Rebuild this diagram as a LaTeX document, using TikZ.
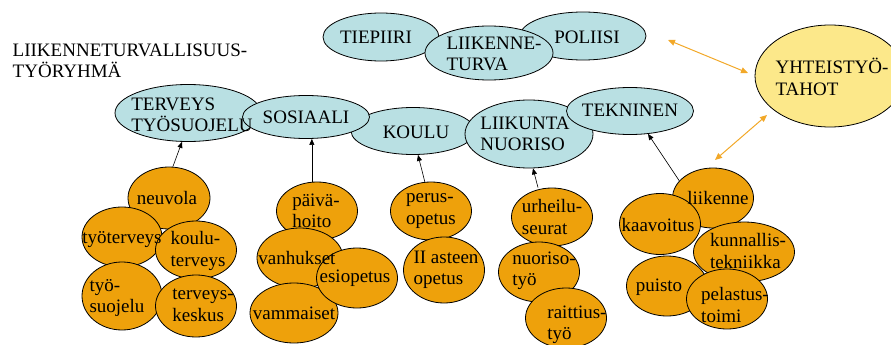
\documentclass[tikz,border=0pt]{standalone}
\usepackage{fontspec}
\setmainfont{Liberation Serif}
\usetikzlibrary{shapes.geometric,arrows.meta}
\definecolor{lblue}{HTML}{B9E0E3}
\definecolor{orng}{HTML}{EEA10B}
\definecolor{ylw}{HTML}{FCE88A}
\definecolor{arr}{HTML}{F2A828}
\tikzset{
  ell/.style={ellipse, draw=black, line width=0.8pt, inner sep=0pt},
  blue/.style={ell, fill=lblue},
  org/.style={ell, fill=orng},
  yel/.style={ell, fill=ylw},
  txt/.style={inner sep=0pt, align=left, font=\fontsize{19}{21.5}\selectfont},
  con/.style={line width=0.6pt, -{Triangle[length=6pt,width=5pt]}},
  oarr/.style={draw=arr, line width=1pt, {Triangle[length=7pt,width=6pt]}-{Triangle[length=7pt,width=6pt]}}
}
\newcommand{\el}[6]{\node[#1, minimum width=#4pt, minimum height=#5pt] (#6) at (#2,#3) {};}
\begin{document}
\begin{tikzpicture}[x=1pt,y=-1pt]
\useasboundingbox (0,0) rectangle (891,345);
\begin{scope}
\clip (0,0) rectangle (891,345);
% top row
\el{blue}{381}{37}{116}{48}{tie}
\el{blue}{583}{36}{126}{48}{pol}
\el{blue}{489}{53}{128}{54}{lt}
\el{yel}{830}{76}{150}{102}{yht}
% second row
\el{blue}{188}{113}{146}{57}{ter}
\el{blue}{413}{131}{124}{47}{kou}
\el{blue}{306}{117}{127}{43}{sos}
\el{blue}{529}{134}{128}{68}{lii}
\el{blue}{630}{111}{127}{47}{tek}
% column 1
\el{org}{169}{198}{82}{62}{neu}
\el{org}{122}{237}{80}{60}{tyt}
\el{org}{196}{250}{81}{58}{kt}
\el{org}{122}{296}{80}{68}{tys}
\el{org}{196}{306}{81}{62}{tk}
% column 2
\el{org}{317}{211}{81}{58}{pai}
\el{org}{300}{258}{86}{60}{van}
\el{org}{294}{313}{88}{60}{vam}
\el{org}{357}{278}{81}{60}{esi}
% column 3
\el{org}{431}{211}{81}{58}{per}
\el{org}{444}{270}{81}{66}{ii}
% column 4
\el{org}{552}{217}{81}{58}{urh}
\el{org}{539}{272}{81}{60}{nuo}
\el{org}{566}{318}{81}{60}{rai}
% column 5
\el{org}{713}{198}{81}{60}{lik}
\el{org}{660}{224}{81}{61}{kaa}
\el{org}{744}{252}{101}{60}{kun}
\el{org}{667}{286}{81}{60}{pui}
\el{org}{727}{299}{81}{60}{pel}
% texts
\node[txt] (title) at (130,61) {LIIKENNETURVALLISUUS-\\TYÖRYHMÄ};
\node[txt] (tie-t) at (376,37) {TIEPIIRI};
\node[txt] (lt-t) at (494,54) {LIIKENNE-\\TURVA};
\node[txt] (pol-t) at (587,37) {POLIISI};
\node[txt] (yht-t) at (832,77) {YHTEISTYÖ-\\TAHOT};
\node[txt] (ter-t) at (192,115) {TERVEYS\\TYÖSUOJELU};
\node[txt] (sos-t) at (306,117) {SOSIAALI};
\node[txt] (kou-t) at (416,132) {KOULU};
\node[txt] (lii-t) at (525,134) {LIIKUNTA\\NUORISO};
\node[txt] (tek-t) at (630,110) {TEKNINEN};
\node[txt] (neu-t) at (167,198) {neuvola};
\node[txt] (tyt-t) at (122,240) {työterveys};
\node[txt] (kt-t) at (198,251) {koulu-\\terveys};
\node[txt] (tys-t) at (117,298) {työ-\\suojelu};
\node[txt] (tk-t) at (203,305) {terveys-\\keskus};
\node[txt] (pai-t) at (316,211) {päivä-\\hoito};
\node[txt] (van-t) at (297,258) {vanhukset};
\node[txt] (esi-t) at (355,278) {esiopetus};
\node[txt] (vam-t) at (294,313) {vammaiset};
\node[txt] (per-t) at (431,211) {perus-\\opetus};
\node[txt] (ii-t) at (446,270) {II asteen\\opetus};
\node[txt] (urh-t) at (552,217) {urheilu-\\seurat};
\node[txt] (nuo-t) at (544,271) {nuoriso-\\työ};
\node[txt] (rai-t) at (577,325) {raittius-\\työ};
\node[txt] (lik-t) at (718,198) {liikenne};
\node[txt] (kaa-t) at (658,225) {kaavoitus};
\node[txt] (kun-t) at (748,251) {kunnallis-\\tekniikka};
\node[txt] (pui-t) at (659,287) {puisto};
\node[txt] (pel-t) at (735,305) {pelastus-\\toimi};
% connectors
\draw[con] (neu.83) -- ([xshift=-6pt]ter.south);
\draw[con] (pai.100) -- (pai.100 |- sos.south);
\draw[con] (per.102) -- ([xshift=5pt]kou.south);
\draw[con] ([xshift=-14pt]urh.north) -- ([xshift=4pt]lii.south);
\draw[con] (lik.153) -- ([xshift=18pt,yshift=1pt]tek.south);
\coordinate (o1) at (668,40);
\coordinate (o2) at (748,73);
\coordinate (o3) at (767,115);
\coordinate (o4) at (715,160);
\draw[oarr] (o1) -- (o2);
\draw[oarr] (o3) -- (o4);
\end{scope}
\end{tikzpicture}
\end{document}
